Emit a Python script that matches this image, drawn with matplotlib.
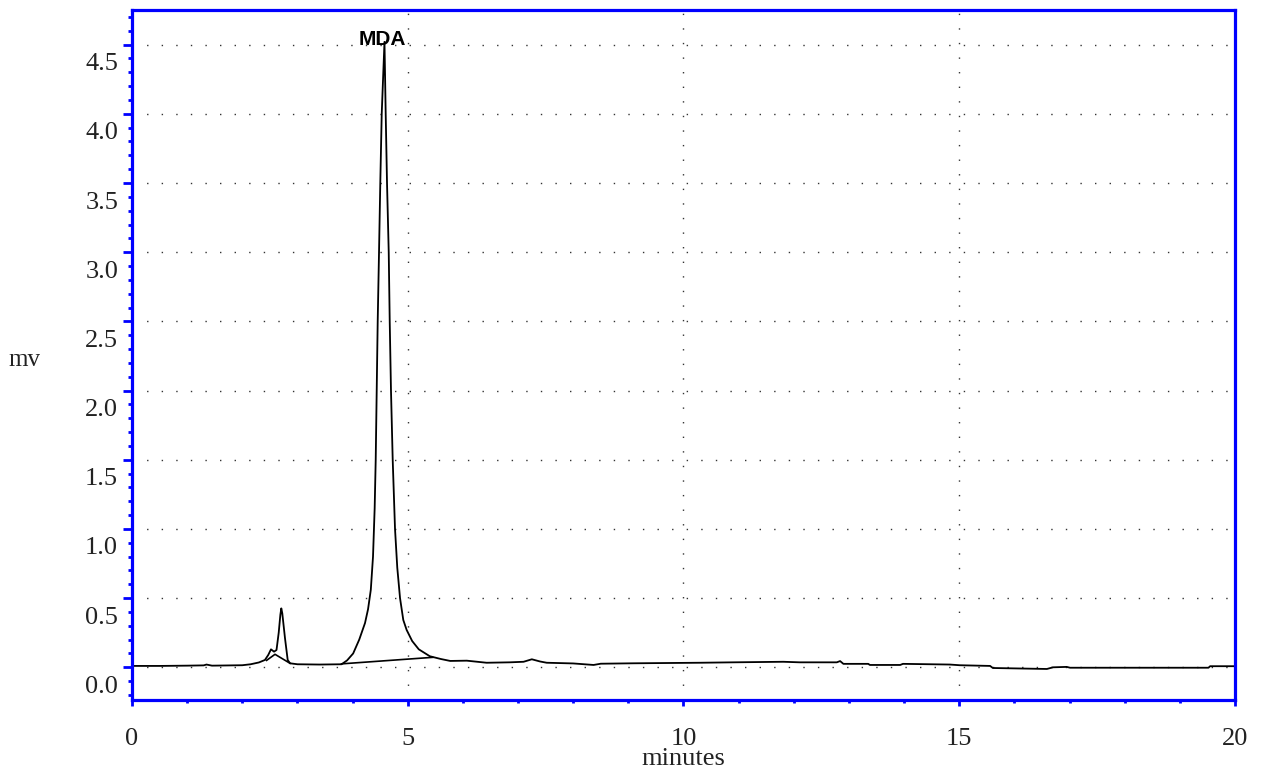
import numpy as np
import matplotlib
matplotlib.use("Agg")
import matplotlib.pyplot as plt
import matplotlib.transforms as mtransforms
from matplotlib.ticker import MultipleLocator, FixedFormatter, FixedLocator

# chromatogram trace (minutes, mv)
time_min = [
    0.0, 0.5, 1.0, 1.3, 1.35, 1.45, 2.0, 2.15, 2.3, 2.41, 2.47, 2.52,
    2.575, 2.62, 2.66, 2.69, 2.707, 2.725, 2.774, 2.823, 2.865, 3.0, 3.4, 3.8,
    3.9, 4.01, 4.12, 4.225, 4.28, 4.33, 4.37, 4.40, 4.419, 4.437, 4.455,
    4.479, 4.502, 4.528, 4.578, 4.600, 4.624, 4.655, 4.673, 4.696,
    4.727, 4.769, 4.81, 4.860, 4.919, 4.98, 5.08, 5.2, 5.4, 5.6, 5.77,
    6.07, 6.43, 6.85, 7.1, 7.25, 7.4, 7.52, 8.0, 8.37, 8.5, 9.09, 10.3,
    10.9, 11.81, 12.11, 12.78, 12.84, 12.9, 13.35, 13.38, 13.93, 13.98,
    14.83, 15.01, 15.56, 15.61, 16.59, 16.70, 16.95, 17.01, 19.52,
    19.55, 20.0,
]
signal_mv = [
    0.010, 0.010, 0.012, 0.014, 0.020, 0.012, 0.015, 0.022, 0.035, 0.053, 0.089, 0.130,
    0.113, 0.125, 0.250, 0.380, 0.426, 0.390, 0.210, 0.053, 0.029, 0.022, 0.020, 0.022,
    0.050, 0.100, 0.200, 0.320, 0.420, 0.560, 0.800, 1.150, 1.500, 2.000, 2.500,
    3.000, 3.500, 4.000, 4.520, 4.000, 3.500, 3.000, 2.500, 2.000,
    1.500, 1.000, 0.720, 0.500, 0.342, 0.270, 0.190, 0.130, 0.080, 0.060, 0.046,
    0.048, 0.033, 0.036, 0.040, 0.058, 0.042, 0.033, 0.028, 0.017, 0.026, 0.029, 0.033,
    0.036, 0.040, 0.036, 0.036, 0.045, 0.025, 0.025, 0.017, 0.017, 0.025,
    0.020, 0.015, 0.010, -0.005, -0.012, 0.000, 0.003, -0.003, -0.003,
    0.008, 0.008,
]

# drawn baselines under the two peaks
base1_t = [2.44, 2.593, 2.865]
base1_mv = [0.050, 0.094, 0.029]
base2_t = [3.80, 5.45]
base2_mv = [0.025, 0.072]

peak_name = "MDA"
peak_t = 4.546
peak_mv = 4.50

y_ticks = [0.0, 0.5, 1.0, 1.5, 2.0, 2.5, 3.0, 3.5, 4.0, 4.5]
y_labels = ["0.0", "0.5", "1.0", "1.5", "2.0", "2.5", "3.0", "3.5", "4.0", "4.5"]
x_ticks = [0, 5, 10, 15, 20]
x_labels = ["0", "5", "10", "15", "20"]

blue = "#0000ff"
serif = "Liberation Serif"

fig = plt.figure(figsize=(12.67, 7.78), dpi=100)
ax = fig.add_axes([0.1042, 0.1003, 0.8705, 0.8868])

ax.plot(time_min, signal_mv, color="black", lw=1.3, solid_joinstyle="round")
ax.plot(base1_t, base1_mv, color="black", lw=1.2)
ax.plot(base2_t, base2_mv, color="black", lw=1.2)

ax.text(peak_t, peak_mv, peak_name, ha="center", va="baseline",
        fontsize=15, fontweight="bold", family="Liberation Sans")

ax.set_xlim(0, 20)
ax.set_ylim(-0.236, 4.75)

ax.yaxis.set_major_locator(FixedLocator(y_ticks))
ax.yaxis.set_major_formatter(FixedFormatter(y_labels))
ax.yaxis.set_minor_locator(MultipleLocator(0.1))
ax.xaxis.set_major_locator(FixedLocator(x_ticks))
ax.xaxis.set_major_formatter(FixedFormatter(x_labels))
ax.xaxis.set_minor_locator(MultipleLocator(1))

# dotted grid
ax.grid(True, which="major", color="#333333", lw=1.0, linestyle=(0, (1, 9.5)))
ax.set_axisbelow(True)

for s in ax.spines.values():
    s.set_color(blue)
    s.set_linewidth(2.3)

ax.tick_params(axis="y", which="major", direction="out", length=6.5, width=2,
               color=blue, pad=3.5, labelsize=19, labelcolor="#222222")
ax.tick_params(axis="y", which="minor", direction="out", length=3, width=2, color=blue)
ax.tick_params(axis="x", which="major", direction="out", length=4, width=2,
               color=blue, pad=16, labelsize=19, labelcolor="#222222")
ax.tick_params(axis="x", which="minor", direction="out", length=2.5, width=2, color=blue)

# y labels sit a bit below their ticks, as in the original software
offset = mtransforms.ScaledTranslation(0, -17 / 100, fig.dpi_scale_trans)
for lab in ax.get_yticklabels():
    lab.set_family(serif)
    lab.set_transform(lab.get_transform() + offset)
for lab in ax.get_xticklabels():
    lab.set_family(serif)

fig.text(24 / 1267, 1 - 360 / 778, "mv", ha="center", va="center",
         fontsize=18, family=serif, color="#222222")
fig.text(683 / 1267, 1 - 759 / 778, "minutes", ha="center", va="center",
         fontsize=19, family=serif, color="#222222")

fig.savefig("out.png", dpi=100)
